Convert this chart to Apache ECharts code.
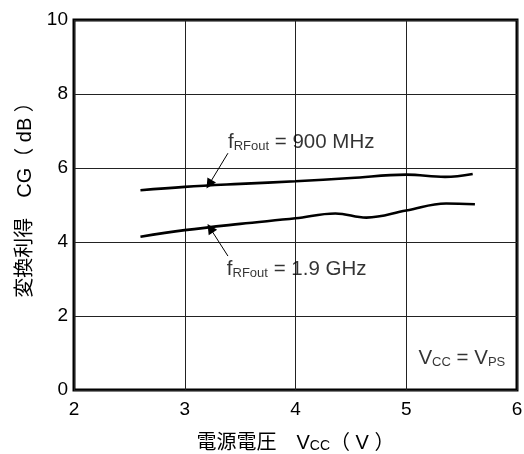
<!DOCTYPE html>
<html>
<head>
<meta charset="utf-8">
<script src="https://cdn.jsdelivr.net/npm/echarts@6/dist/echarts.min.js"></script>
<style>
html,body{margin:0;padding:0;background:#fff;}
#c{width:524px;height:454px;}
</style>
</head>
<body>
<div id="c"></div>
<script>
// Data
var x900 = [2.6, 3.0, 3.5, 4.0, 4.5, 5.0, 5.35, 5.6];
var y900 = [5.40, 5.49, 5.57, 5.64, 5.73, 5.82, 5.76, 5.84];
var x19 = [2.6, 3.0, 3.5, 4.0, 4.36, 4.64, 5.0, 5.36, 5.62];
var y19 = [4.14, 4.32, 4.49, 4.64, 4.77, 4.66, 4.85, 5.04, 5.02];
var xTicks = [2, 3, 4, 5, 6];
var yTicks = [0, 2, 4, 6, 8, 10];
// annotation anchors (data units)
var arrow900 = [[3.39, 6.40], [3.22, 5.56]];
var arrow19 = [[3.39, 3.62], [3.23, 4.37]];
var label900 = [3.39, 6.71];
var label19 = [3.38, 3.29];
var labelVcc = [5.11, 0.89];

var FONT = '"Liberation Sans", Arial, sans-serif';
var CJK = '"Liberation Sans", "Noto Sans CJK JP", sans-serif';

function pairs(xs, ys) { return xs.map(function (x, i) { return [x, ys[i]]; }); }

var richF = {
  b: { fontSize: 20.5, fontFamily: FONT, color: '#000', verticalAlign: 'bottom', lineHeight: 23 },
  s: { fontSize: 13, fontFamily: FONT, color: '#000', verticalAlign: 'bottom', lineHeight: 20 }
};

var chart = echarts.init(document.getElementById('c'), null, { renderer: 'canvas' });
chart.setOption({
  animation: false,
  backgroundColor: '#fff',
  grid: { left: 74, right: 7, top: 20, bottom: 64, outerBoundsMode: 'none', containLabel: false,
    show: true, borderColor: '#000', borderWidth: 3, backgroundColor: 'transparent' },
  xAxis: {
    type: 'value', min: xTicks[0], max: xTicks[xTicks.length - 1], interval: 1,
    axisLine: { show: false }, axisTick: { show: false },
    splitLine: { show: true, lineStyle: { color: '#222', width: 1 } },
    axisLabel: { fontSize: 19, fontFamily: FONT, color: '#000', margin: 10 },
    name: '{c|電源電圧}{b|　V}{s|CC}{b|（ V ）}', nameLocation: 'middle', nameGap: 40,
    nameTextStyle: {
      rich: {
        c: { fontSize: 20, fontFamily: CJK, color: '#000', verticalAlign: 'bottom', lineHeight: 23 },
        b: { fontSize: 20, fontFamily: CJK, color: '#000', verticalAlign: 'bottom', lineHeight: 23 },
        s: { fontSize: 14, fontFamily: FONT, color: '#000', verticalAlign: 'bottom', lineHeight: 21 }
      }
    }
  },
  yAxis: {
    type: 'value', min: yTicks[0], max: yTicks[yTicks.length - 1], interval: 2,
    axisLine: { show: false }, axisTick: { show: false },
    splitLine: { show: true, lineStyle: { color: '#222', width: 1 } },
    axisLabel: { fontSize: 19, fontFamily: FONT, color: '#000', margin: 6 },
    name: '変換利得　CG（ dB ）', nameLocation: 'middle', nameGap: 37,
    nameTextStyle: { fontSize: 20, fontFamily: CJK, color: '#000', padding: [0, 0, 0, 20] }
  },
  series: [
    {
      type: 'line', data: pairs(x900, y900), smooth: 0.4, showSymbol: false, symbol: 'none',
      lineStyle: { color: '#000', width: 2.6 }, z: 5
    },
    {
      type: 'line', data: pairs(x19, y19), smooth: 0.4, showSymbol: false, symbol: 'none',
      lineStyle: { color: '#000', width: 2.6 }, z: 5
    },
    {
      type: 'lines', coordinateSystem: 'cartesian2d', polyline: false,
      symbol: ['none', 'triangle'], symbolSize: [5, 10],
      lineStyle: { color: '#000', width: 1, opacity: 1 },
      data: [{ coords: arrow900 }, { coords: arrow19 }], z: 6
    },
    {
      type: 'scatter', symbolSize: 0, silent: true, z: 7,
      label: { show: true, position: 'right', distance: 0 },
      data: [
        { value: label900, label: { formatter: '{b|f}{s|RFout}{b| = 900 MHz}', rich: richF } },
        { value: label19, label: { formatter: '{b|f}{s|RFout}{b| = 1.9 GHz}', rich: richF } },
        { value: labelVcc, label: { formatter: '{b|V}{s|CC}{b| = V}{s|PS}', rich: richF } }
      ]
    }
  ]
});
</script>
</body>
</html>
